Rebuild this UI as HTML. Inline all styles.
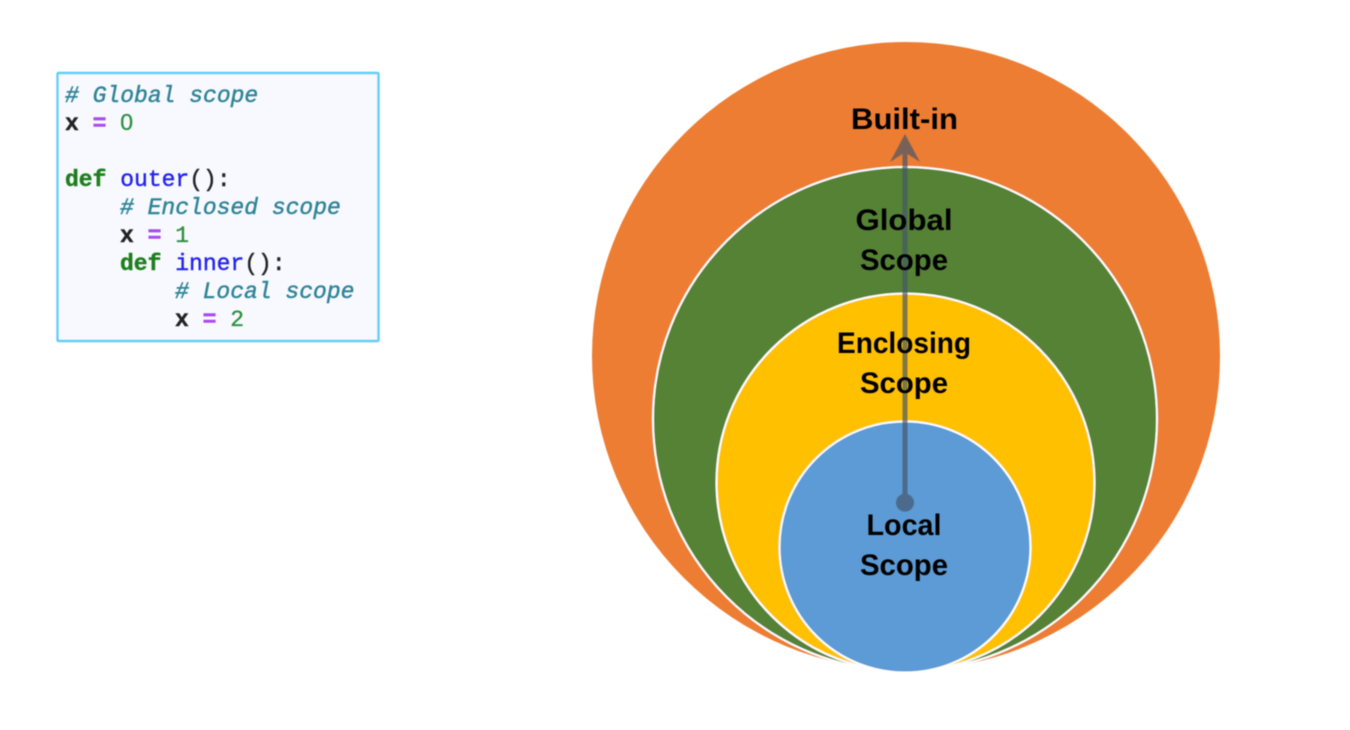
<!DOCTYPE html>
<html>
<head>
<meta charset="utf-8">
<title>Python scopes</title>
<style>
html,body{margin:0;padding:0;background:#fff;width:1350px;height:730px;overflow:hidden}
svg{display:block}
.c{font-family:"Liberation Mono","DejaVu Sans Mono",monospace;font-size:23px;white-space:pre}
.cm{fill:#2f8497;stroke:#2f8497;stroke-width:.45;font-style:italic}
.k{fill:#1f7f1f;stroke:#1f7f1f;stroke-width:.4;font-weight:bold}
.f{fill:#2323ee;stroke:#2323ee;stroke-width:.4}
.o{fill:#a94cf0;stroke:#a94cf0;stroke-width:.6;font-weight:bold}
.n{fill:#2f8f3f;stroke:#2f8f3f;stroke-width:.3}
.v{fill:#222;stroke:#222;stroke-width:.4}
.d{font-family:"Liberation Sans",sans-serif}
.l{font-family:"Liberation Sans",sans-serif;font-weight:bold;font-size:30px;fill:#050505}
</style>
</head>
<body>
<svg width="1350" height="730" viewBox="0 0 1350 730" xmlns="http://www.w3.org/2000/svg">
<defs>
<filter id="b" x="-5%" y="-5%" width="110%" height="110%"><feGaussianBlur stdDeviation="0.55"/></filter>
<filter id="s" x="-5%" y="-5%" width="110%" height="110%"><feGaussianBlur stdDeviation="0.6"/></filter>
</defs>
<rect width="1350" height="730" fill="#fff"/>
<rect x="57.5" y="73" width="321" height="268" fill="#f8f9fe" stroke="#5fcdfa" stroke-width="2.4" rx="1" filter="url(#s)"/>
<g class="c" filter="url(#b)">
<text x="65" y="102" class="cm"># Global scope</text>
<text x="65" y="130"><tspan class="v" font-weight="bold">x</tspan><tspan class="o"> = </tspan><tspan class="n d">0</tspan></text>
<text x="65" y="186"><tspan class="k">def</tspan><tspan class="f"> outer</tspan><tspan class="v">():</tspan></text>
<text x="120" y="214" class="cm"># Enclosed scope</text>
<text x="120" y="242"><tspan class="v" font-weight="bold">x</tspan><tspan class="o"> = </tspan><tspan class="n">1</tspan></text>
<text x="120" y="270"><tspan class="k">def</tspan><tspan class="f"> inner</tspan><tspan class="v">():</tspan></text>
<text x="175" y="298" class="cm"># Local scope</text>
<text x="175" y="326"><tspan class="v" font-weight="bold">x</tspan><tspan class="o"> = </tspan><tspan class="n">2</tspan></text>
</g>
<g filter="url(#s)">
<circle cx="906" cy="356" r="314" fill="#ed7d31"/>
<circle cx="905" cy="419" r="252" fill="#548235" stroke="#fff" stroke-width="2"/>
<circle cx="905.5" cy="482.5" r="189" fill="#ffc000" stroke="#fff" stroke-width="2"/>
<circle cx="905" cy="547" r="125.5" fill="#5b9bd5" stroke="#fff" stroke-width="2"/>
</g>
<g fill="#44546a" opacity="0.68" filter="url(#b)">
<path d="M905 134 L920 162 L907.5 154 L907.5 494 A9 9 0 1 1 902.5 494 L902.5 154 L890 162 Z"/>
</g>
<g filter="url(#b)">
<text class="l" x="904.5" y="129" text-anchor="middle" textLength="107" lengthAdjust="spacingAndGlyphs">Built-in</text>
<text class="l" x="904" y="230" text-anchor="middle" textLength="97" lengthAdjust="spacingAndGlyphs">Global</text>
<text class="l" x="904" y="270" text-anchor="middle" textLength="88" lengthAdjust="spacingAndGlyphs">Scope</text>
<text class="l" x="904" y="353" text-anchor="middle" textLength="134" lengthAdjust="spacingAndGlyphs">Enclosing</text>
<text class="l" x="904" y="393" text-anchor="middle" textLength="88" lengthAdjust="spacingAndGlyphs">Scope</text>
<text class="l" x="904" y="535" text-anchor="middle" textLength="75" lengthAdjust="spacingAndGlyphs">Local</text>
<text class="l" x="904" y="575" text-anchor="middle" textLength="88" lengthAdjust="spacingAndGlyphs">Scope</text>
</g>
</svg>
</body>
</html>
